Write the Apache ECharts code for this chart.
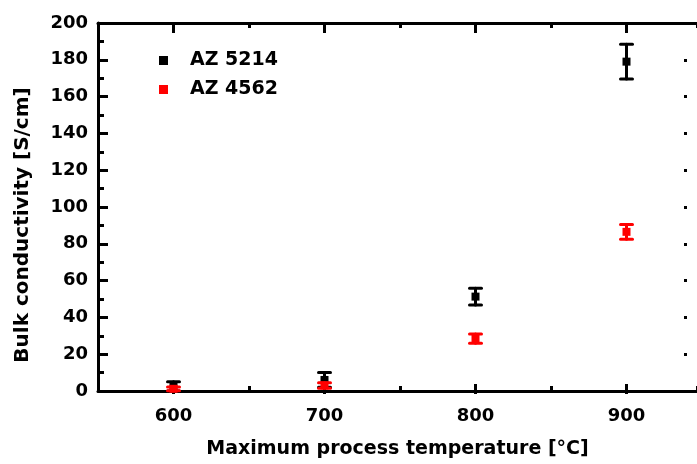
<!DOCTYPE html>
<html>
<head>
<meta charset="utf-8">
<script src="https://cdn.jsdelivr.net/npm/echarts@6/dist/echarts.min.js"></script>
<style>
html,body{margin:0;padding:0;background:#fff;}
#chart{width:697px;height:464px;}
</style>
</head>
<body>
<div id="chart"></div>
<script>
// ---- data ----
const temperatures = [600, 700, 800, 900];
const az5214Values = [2.5, 6, 51.3, 179];
const az5214Errors = [2.5, 4, 4.6, 9.5];
const az4562Values = [1.2, 3, 28.5, 86.5];
const az4562Errors = [1, 1.5, 2.5, 4];
const seriesNames = ['AZ 5214', 'AZ 4562'];
const xLabelTicks = [600, 700, 800, 900];
const yTickStep = 20;

const FONT = 'DejaVu Sans';
const W = 697, H = 464;
const gridLeft = 98, gridTop = 23, gridBottomPx = 394;
const pxPerUnit = 1.51;              // pixels per degree
const xMin = 550;
const xMax = xMin + (W - gridLeft) / pxPerUnit;  // axis is cropped at the right edge
const yMin = 0, yMax = 200;
const gA = { left: gridLeft, right: 0, top: gridTop, bottom: H - gridBottomPx };
const gB = {
  left: gridLeft + (xLabelTicks[0] - xMin) * pxPerUnit,
  right: W - (gridLeft + (xLabelTicks[xLabelTicks.length - 1] - xMin) * pxPerUnit),
  top: gridTop, bottom: H - gridBottomPx
};

function pts(vals) { return temperatures.map((t, i) => [t, vals[i]]); }
function errs(vals, e) { return temperatures.map((t, i) => [t, vals[i] - e[i], vals[i] + e[i]]); }

function errorSeries(vals, e, color, z) {
  return {
    type: 'custom', xAxisIndex: 0, yAxisIndex: 0, z: z, silent: true,
    data: errs(vals, e),
    renderItem: function (params, api) {
      const x = api.value(0);
      const lo = api.coord([x, api.value(1)]);
      const hi = api.coord([x, api.value(2)]);
      const hw = 6;
      const st = { stroke: color, lineWidth: 3, lineCap: 'round' };
      return {
        type: 'group',
        children: [
          { type: 'line', shape: { x1: lo[0], y1: lo[1], x2: hi[0], y2: hi[1] }, style: st },
          { type: 'line', shape: { x1: hi[0] - hw, y1: hi[1], x2: hi[0] + hw, y2: hi[1] }, style: st },
          { type: 'line', shape: { x1: lo[0] - hw, y1: lo[1], x2: lo[0] + hw, y2: lo[1] }, style: st }
        ]
      };
    }
  };
}

const axisLineStyle = { color: '#000', width: 3 };
const labelStyle = { fontFamily: FONT, fontWeight: 'bold', fontSize: 18, color: '#000' };
const xTitleStyle = Object.assign({}, labelStyle, { fontSize: 19 });
const yTitleStyle = Object.assign({}, labelStyle, { fontSize: 20, padding: [0, 36, 0, 0] });

const option = {
  animation: false,
  backgroundColor: '#fff',
  grid: [
    Object.assign({ containLabel: false }, gA),
    Object.assign({ containLabel: false }, gB)
  ],
  legend: {
    orient: 'vertical', left: 154, top: 46, itemGap: 10,
    itemWidth: 9, itemHeight: 9, icon: 'rect',
    data: seriesNames,
    textStyle: Object.assign({}, labelStyle, { fontSize: 19, padding: [0, 0, 0, 17] })
  },
  xAxis: [
    { // main bottom axis: line + short ticks
      gridIndex: 0, type: 'value', position: 'bottom', min: xMin, max: xMax, interval: 50,
      axisLine: { show: true, onZero: false, lineStyle: axisLineStyle },
      axisTick: { show: true, inside: true, length: 5, lineStyle: { width: 3, color: '#000' } },
      axisLabel: { show: false }, splitLine: { show: false },
      name: 'Maximum process temperature [°C]', nameLocation: 'middle', nameGap: 49,
      nameTextStyle: xTitleStyle
    },
    { // top axis: line + short ticks
      gridIndex: 0, type: 'value', position: 'top', min: xMin, max: xMax, interval: 50,
      axisLine: { show: true, onZero: false, lineStyle: axisLineStyle },
      axisTick: { show: true, inside: true, length: 5, lineStyle: { width: 3, color: '#000' } },
      axisLabel: { show: false }, splitLine: { show: false }
    },
    { // bottom labelled major ticks
      gridIndex: 1, type: 'value', position: 'bottom', min: xLabelTicks[0], max: xLabelTicks[xLabelTicks.length - 1], interval: 100,
      axisLine: { show: false, onZero: false },
      axisTick: { show: true, inside: true, length: 10, lineStyle: { width: 3, color: '#000' } },
      axisLabel: Object.assign({ show: true, margin: 13 }, labelStyle), splitLine: { show: false }
    },
    { // top major ticks
      gridIndex: 1, type: 'value', position: 'top', min: xLabelTicks[0], max: xLabelTicks[xLabelTicks.length - 1], interval: 100,
      axisLine: { show: false, onZero: false },
      axisTick: { show: true, inside: true, length: 10, lineStyle: { width: 3, color: '#000' } },
      axisLabel: { show: false }, splitLine: { show: false }
    }
  ],
  yAxis: [
    {
      gridIndex: 0, type: 'value', position: 'left', min: yMin, max: yMax, interval: yTickStep,
      axisLine: { show: true, onZero: false, lineStyle: axisLineStyle },
      axisTick: { show: true, inside: true, length: 10, lineStyle: { width: 3, color: '#000' } },
      minorTick: { show: true, splitNumber: 2, length: 6, lineStyle: { width: 3, color: '#000' } },
      axisLabel: Object.assign({ margin: 10 }, labelStyle),
      splitLine: { show: false }, minorSplitLine: { show: false },
      name: 'Bulk conductivity [S/cm]', nameLocation: 'middle', nameGap: 65,
      nameTextStyle: yTitleStyle
    },
    { // faint tick stubs visible near the cropped right edge
      gridIndex: 0, type: 'value', position: 'right', offset: -10, min: yMin, max: yMax, interval: yTickStep,
      axisLine: { show: false, onZero: false },
      axisTick: { show: true, inside: true, length: 3, lineStyle: { width: 3, color: '#000' } },
      axisLabel: { show: false }, splitLine: { show: false }
    },
    {
      gridIndex: 1, type: 'value', show: false, min: yMin, max: yMax
    }
  ],
  series: [
    errorSeries(az5214Values, az5214Errors, '#000', 2),
    {
      name: seriesNames[0], type: 'scatter', xAxisIndex: 0, yAxisIndex: 0, z: 3,
      symbol: 'rect', symbolSize: 8, itemStyle: { color: '#000', opacity: 1 },
      data: pts(az5214Values)
    },
    errorSeries(az4562Values, az4562Errors, '#ff0000', 4),
    {
      name: seriesNames[1], type: 'scatter', xAxisIndex: 0, yAxisIndex: 0, z: 5,
      symbol: 'rect', symbolSize: 8, itemStyle: { color: '#ff0000', opacity: 1 },
      data: pts(az4562Values)
    }
  ]
};

const chart = echarts.init(document.getElementById('chart'), null, { renderer: 'canvas' });
chart.setOption(option);
</script>
</body>
</html>
